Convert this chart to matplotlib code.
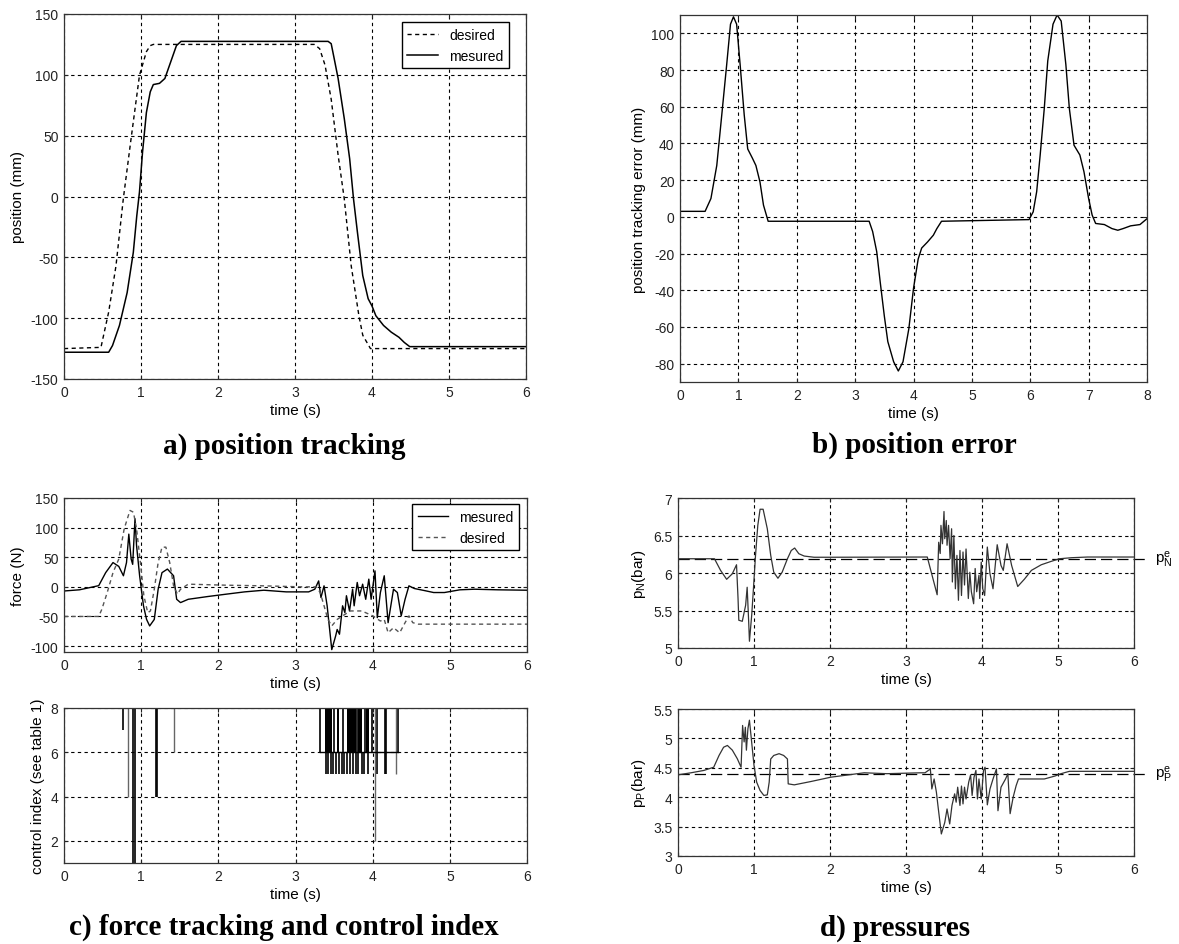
import numpy as np
import matplotlib
matplotlib.use("Agg")
import matplotlib.pyplot as plt
from matplotlib.ticker import FuncFormatter

plt.rcParams['font.family'] = ['Liberation Sans', 'DejaVu Sans']
plt.rcParams['font.size'] = 10
plt.rcParams['mathtext.fontset'] = 'custom'
plt.rcParams['mathtext.rm'] = 'Liberation Sans'
plt.rcParams['mathtext.it'] = 'Liberation Sans:italic'

# ---- a) position tracking ----
pos_des_t = [0, 0.48, 0.58, 0.675, 0.77, 0.87, 0.98, 1.07, 1.12, 1.16, 3.25, 3.32, 3.39,
             3.47, 3.56, 3.64, 3.73, 3.83, 3.88, 3.98, 6.0]
pos_des = [-125, -124, -95, -57, -2, 47, 99.5, 119, 124, 125, 125, 121.5, 108,
           80, 34, -2, -57, -98, -114, -125, -125]
pos_mes_t = [0, 0.58, 0.63, 0.72, 0.82, 0.90, 0.945, 0.98, 1.02, 1.07, 1.12, 1.16, 1.24,
             1.31, 1.385, 1.46, 1.52, 3.43, 3.47, 3.51, 3.56, 3.64, 3.71, 3.76, 3.81,
             3.88, 3.95, 4.0, 4.05, 4.15, 4.25, 4.35, 4.42, 4.49, 6.0]
pos_mes = [-128, -128, -122.5, -106, -79, -46, -16, 3.6, 36.5, 69, 86, 92, 93,
           97, 110.5, 124, 127.5, 127.5, 125.6, 113, 97, 64, 31, -2, -29,
           -65, -84, -90, -98, -106, -111.5, -115.7, -120, -123.4, -123.4]

# ---- b) position error ----
err_t = [0, 0.43, 0.53, 0.63, 0.72, 0.80, 0.865, 0.916, 0.97, 1.03, 1.10, 1.16, 1.24,
         1.30, 1.37, 1.43, 1.51, 3.24, 3.30, 3.37, 3.43, 3.50, 3.56, 3.66, 3.74, 3.82,
         3.92, 4.0, 4.08, 4.14, 4.24, 4.34, 4.40, 4.48, 5.98, 6.05, 6.11, 6.17, 6.24,
         6.30, 6.39, 6.46, 6.53, 6.61, 6.67, 6.75, 6.85, 6.92, 7.0, 7.06, 7.12, 7.27,
         7.40, 7.50, 7.59, 7.72, 7.88, 8.0]
err = [3, 3, 10, 28, 57, 83, 105, 109, 105, 83, 55.6, 37, 32,
       28, 19, 6.4, -2.4, -2.4, -8, -19, -35.6, -54, -68, -79, -84, -79,
       -61, -39, -23, -17, -13.7, -10, -6.4, -2.4, -1.5, 2.7, 13.7, 33.7, 59,
       85, 105, 110, 106.7, 83, 59, 39, 33.7, 24.6, 10, 1, -3.6, -4.2,
       -6.4, -7.3, -6.4, -4.9, -4.2, -1]

# ---- c) force tracking ----
f_mes_t = [0, 0.2, 0.45, 0.54, 0.635, 0.71, 0.77, 0.81, 0.84, 0.87, 0.89, 0.92, 0.94,
           0.98, 1.03, 1.07, 1.11, 1.17, 1.22, 1.27, 1.34, 1.42, 1.46, 1.51, 1.61,
           1.86, 2.1, 2.34, 2.59, 2.88, 3.17, 3.25, 3.30, 3.33, 3.37, 3.41, 3.47,
           3.52, 3.54, 3.57, 3.61, 3.64, 3.66, 3.70, 3.74, 3.76, 3.80, 3.83, 3.87,
           3.91, 3.95, 3.98, 4.03, 4.06, 4.10, 4.15, 4.20, 4.27, 4.32, 4.37, 4.42,
           4.47, 4.54, 4.69, 4.79, 4.93, 5.13, 5.32, 5.62, 6.0]
f_mes = [-7, -5, 2, 24, 41, 34.5, 18.7, 41, 89, 47, 38, 115, 70,
         18.7, -32, -55, -66, -55, -4, 24, 30, 18.7, -21, -26.6, -21,
         -16.4, -12.4, -8.5, -5.7, -8.5, -8.5, -4, 10, -18, 1.7, -32, -106,
         -83, -72, -80, -32, -43.5, -15, -40.7, -4, -32, 7.4, -15, 4.5,
         -21, 13, -21, 27, -52, -9.6, 18.7, -60.5, -4, -9.6, -49, -21,
         1.7, -2.8, -6.8, -9.6, -9.6, -5, -4, -5, -5.7]
f_des_t = [0, 0.45, 0.49, 0.56, 0.635, 0.71, 0.78, 0.855, 0.90, 0.94, 0.99, 1.035,
           1.085, 1.12, 1.17, 1.22, 1.27, 1.32, 1.37, 1.42, 1.47, 1.51, 1.61, 2.1,
           2.59, 3.08, 3.27, 3.32, 3.37, 3.42, 3.47, 3.54, 3.61, 3.71, 3.86, 4.0,
           4.10, 4.15, 4.20, 4.27, 4.35, 4.42, 4.47, 4.52, 4.59, 6.0]
f_des = [-50, -50, -38, -9.6, 24, 47, 98, 129, 126, 98, 41, -15,
         -43.5, -40.7, -4, 41, 67, 67, 41, 1.7, -12.4, -4, 4.5, 2.8,
         1.7, 0, 0, -9.6, -32, -55, -66, -55, -49, -40.7, -40.7, -49,
         -57.7, -55, -77.5, -69, -77.5, -60.5, -49, -60.5, -63, -63]

# ---- c) control index: switching lines (time, from, to) ----
ci_t = [0.76, 0.90, 0.915, 1.19, 1.20, 3.317, 3.503, 3.62, 3.80, 3.90, 3.987,
        3.395, 3.425, 3.455, 3.490, 3.524, 3.568, 3.598, 3.633, 3.671, 3.706,
        3.740, 3.779, 3.814, 3.857, 3.888, 3.944, 4.055, 4.159, 4.17, 4.332]
ci_hi = [8, 8, 8, 8, 8, 8, 8, 8, 8, 8, 8,
         6, 6, 6, 6, 6, 6, 6, 6, 6, 6,
         6, 6, 6, 6, 6, 6, 8, 8, 8, 8]
ci_lo = [7, 1, 1, 4, 4, 6, 6, 6, 6, 6, 6,
         5, 5, 5, 5, 5, 5, 5, 5, 5, 5,
         5, 5, 5, 5, 5, 5, 5, 5, 5, 6]
ci_gray_t = [0.83, 1.43, 4.03, 4.298]
ci_gray_lo = [4, 6, 2, 5]
# dense switching 6 <-> 8 (start, end)
ci_block_start = [3.382, 3.533, 3.663, 3.814, 3.914]
ci_block_end = [3.477, 3.568, 3.784, 3.857, 3.957]
ci_base_t = [3.317, 4.332]
ci_base = [6, 6]

# ---- d) pressures ----
pN_ref = 6.19
pN_t = [0, 0.48, 0.56, 0.64, 0.715, 0.77, 0.79, 0.80, 0.846, 0.89, 0.91, 0.93, 0.94,
        0.97, 0.99, 1.02, 1.05, 1.08, 1.12, 1.175, 1.22, 1.26, 1.315, 1.37, 1.44,
        1.49, 1.535, 1.59, 1.66, 1.79, 2.01, 3.28, 3.41, 3.43, 3.45, 3.46, 3.48,
        3.50, 3.51, 3.53, 3.54, 3.56, 3.58, 3.60, 3.61, 3.63, 3.65, 3.67, 3.69,
        3.71, 3.73, 3.75, 3.77, 3.79, 3.82, 3.84, 3.86, 3.89, 3.91, 3.93, 3.96,
        3.97, 3.99, 4.01, 4.035, 4.07, 4.105, 4.145, 4.20, 4.25, 4.28, 4.33, 4.39,
        4.47, 4.56, 4.65, 4.78, 4.91, 5.02, 5.18, 5.39, 6.0]
pN = [6.19, 6.19, 6.035, 5.916, 5.99, 6.11, 5.66, 5.37, 5.356, 5.57, 5.81, 5.35, 5.09,
      5.44, 5.75, 6.235, 6.635, 6.85, 6.85, 6.59, 6.235, 6.01, 5.93, 6.01, 6.19,
      6.30, 6.333, 6.257, 6.226, 6.21, 6.21, 6.213, 5.71, 6.41, 6.26, 6.635, 6.39,
      6.82, 6.457, 6.70, 6.37, 6.635, 6.19, 6.59, 5.88, 6.50, 5.79, 6.235, 5.636,
      6.30, 5.70, 6.28, 5.84, 6.32, 5.66, 6.01, 5.75, 5.59, 6.06, 5.75, 5.97,
      5.66, 6.146, 5.79, 5.70, 6.346, 5.99, 5.79, 6.377, 6.10, 6.035, 6.39, 6.10,
      5.82, 5.92, 6.035, 6.11, 6.155, 6.19, 6.204, 6.213, 6.213]
pP_ref = 4.40
pP_t = [0, 0.17, 0.34, 0.47, 0.54, 0.60, 0.65, 0.715, 0.78, 0.83, 0.85, 0.87, 0.886,
        0.90, 0.92, 0.94, 0.965, 1.0, 1.035, 1.08, 1.13, 1.175, 1.20, 1.22, 1.26,
        1.33, 1.39, 1.44, 1.45, 1.53, 1.75, 2.01, 2.45, 2.75, 3.19, 3.25, 3.31,
        3.32, 3.34, 3.37, 3.40, 3.42, 3.465, 3.51, 3.54, 3.575, 3.605, 3.64, 3.66,
        3.68, 3.71, 3.73, 3.75, 3.77, 3.79, 3.825, 3.85, 3.87, 3.895, 3.92, 3.94,
        3.96, 3.99, 4.02, 4.04, 4.07, 4.105, 4.145, 4.19, 4.21, 4.25, 4.31, 4.34,
        4.37, 4.41, 4.45, 4.48, 4.65, 4.82, 4.96, 5.04, 5.15, 6.0]
pP = [4.38, 4.415, 4.455, 4.51, 4.71, 4.85, 4.88, 4.80, 4.655, 4.51, 5.22, 4.94, 5.19,
      4.80, 5.165, 5.31, 4.99, 4.54, 4.256, 4.114, 4.03, 4.04, 4.256, 4.65, 4.71,
      4.74, 4.71, 4.65, 4.227, 4.21, 4.267, 4.34, 4.415, 4.40, 4.415, 4.415, 4.47,
      4.49, 4.14, 4.31, 4.085, 3.86, 3.375, 3.57, 3.80, 3.545, 3.86, 4.057, 3.915,
      4.17, 3.86, 4.19, 3.886, 4.17, 3.97, 4.256, 4.38, 4.03, 4.34, 4.455, 3.97,
      4.31, 3.97, 4.455, 4.51, 3.87, 4.14, 4.31, 4.48, 3.77, 4.17, 4.31, 4.40,
      3.72, 4.0, 4.2, 4.31, 4.31, 4.31, 4.36, 4.40, 4.44, 4.44]
ref_t = [0, 6.2]

W, H = 1179, 945
fig = plt.figure(figsize=(W / 100, H / 100), dpi=100)


def px_axes(l, t, r, b):
    return fig.add_axes([l / W, 1 - b / H, (r - l) / W, (b - t) / H])


def matlab_style(ax, xmax, yticks, ylim, xlabel=True):
    ax.set_xlim(0, xmax)
    ax.set_xticks(range(0, xmax + 1))
    ax.set_ylim(*ylim)
    ax.set_yticks(yticks)
    ax.yaxis.set_major_formatter(FuncFormatter(lambda v, p: '%g' % v))
    ax.grid(True, color='k', linestyle=(0, (3, 3)), linewidth=0.8)
    ax.tick_params(direction='in', length=3, width=0.8, top=True, right=True,
                   labelsize=10, pad=4, colors='#222222')
    for s in ax.spines.values():
        s.set_linewidth(0.9)
        s.set_color('#333333')
    if xlabel:
        ax.set_xlabel('time (s)', fontsize=11, labelpad=3)


# a
ax_a = px_axes(64, 15, 526, 380)
ax_a.plot(pos_des_t, pos_des, color='k', lw=1.0, linestyle=(0, (3, 2.5)), label='desired')
ax_a.plot(pos_mes_t, pos_mes, color='k', lw=1.1, label='mesured')
matlab_style(ax_a, 6, range(-150, 151, 50), (-150, 150))
ax_a.set_ylabel('position (mm)', fontsize=11)
ax_a.legend(loc='upper right', bbox_to_anchor=(0.963, 0.978), borderaxespad=0,
            fancybox=False, edgecolor='k', framealpha=1, fontsize=10,
            handlelength=2.2)

# b
ax_b = px_axes(680, 16, 1147, 383)
ax_b.plot(err_t, err, color='k', lw=1.0)
matlab_style(ax_b, 8, range(-80, 101, 20), (-90, 110))
ax_b.set_ylabel('position tracking error (mm)', fontsize=11)

# c force
ax_c1 = px_axes(64, 499, 527, 653)
ax_c1.plot(f_mes_t, f_mes, color='k', lw=1.0, label='mesured')
ax_c1.plot(f_des_t, f_des, color='#555555', lw=1.0, linestyle=(0, (3, 2.5)), label='desired')
matlab_style(ax_c1, 6, range(-100, 151, 50), (-110, 150))
ax_c1.set_ylabel('force (N)', fontsize=11)
ax_c1.legend(loc='upper right', bbox_to_anchor=(0.983, 0.961), borderaxespad=0,
             fancybox=False, edgecolor='k', framealpha=1, fontsize=10,
             handlelength=2.2)

# c control index
ax_c2 = px_axes(64, 709, 527, 864)
ax_c2.vlines(ci_t, ci_lo, ci_hi, color='k', lw=1.2)
ax_c2.vlines(ci_gray_t, ci_gray_lo, 8, color='#666666', lw=1.0)
ax_c2.bar(ci_block_start, 2, bottom=6,
          width=np.array(ci_block_end) - np.array(ci_block_start),
          align='edge', color='k', linewidth=0)
ax_c2.plot(ci_base_t, ci_base, color='k', lw=1.0)
matlab_style(ax_c2, 6, [2, 4, 6, 8], (1, 8))
ax_c2.set_ylabel('control index (see table 1)', fontsize=11)

# d pN
ax_d1 = px_axes(678, 499, 1134, 649)
ax_d1.plot(ref_t, [pN_ref, pN_ref], color='k', lw=0.9, linestyle=(0, (9, 4)), clip_on=False)
ax_d1.plot(pN_t, pN, color='#333333', lw=0.9)
matlab_style(ax_d1, 6, [5, 5.5, 6, 6.5, 7], (5, 7))
ax_d1.set_ylabel(r'p$_{\rm N}$(bar)', fontsize=11)
ax_d1.text(6.28, pN_ref, r'p$_{\rm N}^{\rm e}$', fontsize=11, va='center', ha='left')

# d pP
ax_d2 = px_axes(678, 710, 1134, 857)
ax_d2.plot(ref_t, [pP_ref, pP_ref], color='k', lw=0.9, linestyle=(0, (9, 4)), clip_on=False)
ax_d2.plot(pP_t, pP, color='#333333', lw=0.9)
matlab_style(ax_d2, 6, [3, 3.5, 4, 4.5, 5, 5.5], (3, 5.5))
ax_d2.set_ylabel(r'p$_{\rm P}$(bar)', fontsize=11)
ax_d2.text(6.28, pP_ref, r'p$_{\rm P}^{\rm e}$', fontsize=11, va='center', ha='left')

# panel captions
cap = dict(fontsize=21, fontweight='bold', family='Liberation Serif',
           ha='center', va='center')
fig.text(284 / W, 1 - 446 / H, 'a) position tracking', **cap)
fig.text(914 / W, 1 - 445 / H, 'b) position error', **cap)
fig.text(284 / W, 1 - 927 / H, 'c) force tracking and control index', **cap)
fig.text(895 / W, 1 - 928 / H, 'd) pressures', **cap)

fig.savefig('out.png', dpi=100)
